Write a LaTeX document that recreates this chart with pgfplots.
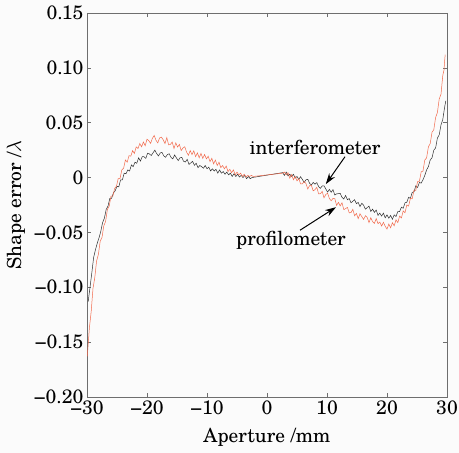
\documentclass[border=0pt]{standalone}
\usepackage{pgfplots}
\pgfplotsset{compat=1.18}
\usepackage{fontspec}
\setmainfont{TeX Gyre Schola}
\usetikzlibrary{arrows.meta}
\definecolor{proc}{RGB}{242,105,75}
\definecolor{intc}{RGB}{45,45,45}
\definecolor{axc}{RGB}{110,110,110}
\definecolor{bgc}{RGB}{251,251,251}
\begin{document}
\begin{tikzpicture}
\fill[bgc] (0,0) rectangle (459bp,453bp);
\useasboundingbox (0,0) rectangle (459bp,453bp);
\begin{axis}[
  at={(87bp,56bp)}, anchor=south west,
  scale only axis, width=360bp, height=384bp,
  xmin=-30, xmax=30, ymin=-0.20, ymax=0.15,
  xtick={-30,-20,...,30},
  ytick={-0.20,-0.15,-0.10,-0.05,0,0.05,0.10,0.15},
  yticklabels={−0.20,−0.15,−0.10,−0.05,0,0.05,0.10,0.15},
  xticklabels={−30,−20,−10,0,10,20,30},
  tick align=inside, major tick length=4bp,
  axis line style={axc, line width=0.6pt},
  every tick/.style={axc, line width=0.6pt},
  tick label style={font=\fontsize{19.5}{22}\selectfont, black},
  label style={font=\fontsize{19.5}{22}\selectfont, black},
  xlabel={Aperture /mm},
  ylabel={Shape error /$\lambda$},
  xlabel style={yshift=-7bp},
  ylabel style={yshift=2bp},
  clip=true,
]
\addplot[intc, line width=0.5pt] coordinates {
(-29.8,-0.113) (-29.5,-0.100) (-29.2,-0.087) (-28.9,-0.073) (-28.6,-0.066) (-28.3,-0.060) (-28.0,-0.055) (-27.7,-0.049) (-27.4,-0.041) (-27.1,-0.037)
(-26.8,-0.029) (-26.5,-0.026) (-26.2,-0.019) (-25.9,-0.019) (-25.6,-0.014) (-25.3,-0.012) (-25.0,-0.008) (-24.7,-0.0085) (-24.4,-0.002) (-24.1,-0.002)
(-23.8,0.004) (-23.5,0.0035) (-23.2,0.007) (-22.9,0.006) (-22.6,0.0115) (-22.3,0.010) (-22.0,0.014) (-21.7,0.013) (-21.4,0.018) (-21.1,0.015)
(-20.8,0.019) (-20.5,0.019) (-20.2,0.0175) (-19.9,0.0222) (-19.6,0.0216) (-19.3,0.0201) (-19.0,0.0225) (-18.7,0.025) (-18.4,0.0219) (-18.1,0.0197)
(-17.8,0.0224) (-17.5,0.023) (-17.2,0.0197) (-16.9,0.0185) (-16.6,0.021) (-16.3,0.0217) (-16.0,0.0184) (-15.7,0.017) (-15.4,0.0206) (-15.1,0.018)
(-14.8,0.0155) (-14.5,0.018) (-14.2,0.0184) (-13.9,0.0148) (-13.6,0.0142) (-13.3,0.0166) (-13.0,0.012) (-12.7,0.0134) (-12.4,0.0148) (-12.1,0.0112)
(-11.8,0.013) (-11.5,0.009) (-11.2,0.011) (-10.9,0.010) (-10.6,0.0085) (-10.3,0.011) (-10.0,0.008) (-9.7,0.0095) (-9.4,0.006) (-9.1,0.008)
(-8.8,0.006) (-8.5,0.0075) (-8.2,0.004) (-7.9,0.007) (-7.6,0.004) (-7.3,0.0055) (-7.0,0.003) (-6.7,0.005) (-6.4,0.0025) (-6.1,0.004)
(-5.8,0.001) (-5.5,0.0035) (-5.2,0.001) (-4.9,0.003) (-4.6,0.0005) (-4.3,0.002) (-4.0,0.000) (-3.7,0.002) (-3.4,-0.001) (-3.1,0.001)
(-2.8,-0.001) (-2.5,0.000) (2.6,0.0045) (2.9,0.002) (3.2,0.005) (3.5,0.0015) (3.8,0.003) (4.1,0.001) (4.4,0.003) (4.7,-0.0005)
(5.0,0.001) (5.3,-0.0016) (5.6,0.0008) (5.9,-0.0018) (6.2,-0.0044) (6.5,-0.002) (6.8,-0.0016) (7.1,-0.0052) (7.4,-0.0068) (7.7,-0.0044)
(8.0,-0.006) (8.3,-0.0046) (8.6,-0.0082) (8.9,-0.0098) (9.2,-0.0076) (9.5,-0.0075) (9.8,-0.0104) (10.1,-0.0132) (10.4,-0.0108) (10.7,-0.0134)
(11.0,-0.011) (11.3,-0.0159) (11.6,-0.0148) (11.9,-0.0147) (12.2,-0.0144) (12.5,-0.018) (12.8,-0.0196) (13.1,-0.0163) (13.4,-0.0202) (13.7,-0.0191)
(14.0,-0.023) (14.3,-0.0216) (14.6,-0.0202) (14.9,-0.0238) (15.2,-0.0226) (15.5,-0.0265) (15.8,-0.0234) (16.1,-0.0252) (16.4,-0.0288) (16.7,-0.0274)
(17.0,-0.026) (17.3,-0.0309) (17.6,-0.0288) (17.9,-0.0317) (18.2,-0.0296) (18.5,-0.0345) (18.8,-0.0324) (19.1,-0.0351) (19.4,-0.0324) (19.7,-0.0367)
(20.0,-0.034) (20.3,-0.037) (20.6,-0.0345) (20.9,-0.038) (21.2,-0.034) (21.5,-0.0355) (21.8,-0.031) (22.1,-0.031) (22.4,-0.027) (22.7,-0.028)
(23.0,-0.023) (23.3,-0.0225) (23.6,-0.018) (23.9,-0.019) (24.2,-0.0135) (24.5,-0.013) (24.8,-0.0075) (25.1,-0.009) (25.4,-0.0045) (25.7,-0.005)
(26.0,-0.002) (26.3,0.002) (26.6,0.007) (26.9,0.010) (27.2,0.016) (27.5,0.018) (27.8,0.025) (28.1,0.027) (28.4,0.036) (28.7,0.039)
(29.0,0.048) (29.3,0.053) (29.6,0.064) (29.8,0.070)
};
\addplot[proc, line width=0.5pt] coordinates {
(-29.95,-0.163) (-29.75,-0.148) (-29.6,-0.137) (-29.3,-0.122) (-29.0,-0.101) (-28.7,-0.091) (-28.4,-0.076) (-28.1,-0.070) (-27.8,-0.058) (-27.5,-0.0545) (-27.2,-0.044)
(-26.9,-0.040) (-26.6,-0.029) (-26.3,-0.026) (-26.0,-0.017) (-25.7,-0.017) (-25.4,-0.010) (-25.1,-0.008) (-24.8,-0.001) (-24.5,-0.001) (-24.2,0.007)
(-23.9,0.0085) (-23.6,0.016) (-23.3,0.014) (-23.0,0.020) (-22.7,0.0195) (-22.4,0.0245) (-22.1,0.022) (-21.8,0.028) (-21.5,0.0265) (-21.2,0.031)
(-20.9,0.028) (-20.6,0.0325) (-20.3,0.029) (-20.0,0.035) (-19.7,0.0336) (-19.4,0.0312) (-19.1,0.0358) (-18.8,0.0384) (-18.5,0.034) (-18.2,0.0316)
(-17.9,0.0362) (-17.6,0.0368) (-17.3,0.0344) (-17.0,0.031) (-16.7,0.0364) (-16.4,0.0298) (-16.1,0.0302) (-15.8,0.0324) (-15.5,0.0265) (-15.2,0.0316)
(-14.9,0.0278) (-14.6,0.0302) (-14.3,0.0246) (-14.0,0.027) (-13.7,0.0281) (-13.4,0.0232) (-13.1,0.0203) (-12.8,0.0246) (-12.5,0.021) (-12.2,0.0244)
(-11.9,0.019) (-11.6,0.0225) (-11.3,0.018) (-11.0,0.022) (-10.7,0.0175) (-10.4,0.021) (-10.1,0.017) (-9.8,0.0195) (-9.5,0.0145) (-9.2,0.0175)
(-8.9,0.0125) (-8.6,0.016) (-8.3,0.011) (-8.0,0.014) (-7.7,0.009) (-7.4,0.011) (-7.1,0.008) (-6.8,0.0105) (-6.5,0.0055) (-6.2,0.0075)
(-5.9,0.0045) (-5.6,0.007) (-5.3,0.0025) (-5.0,0.005) (-4.7,0.0025) (-4.4,0.004) (-4.1,0.001) (-3.8,0.003) (-3.5,0.0005) (-3.2,0.002)
(-2.9,0.001) (-2.6,0.002) (-2.3,0.001) (2.6,0.004) (2.9,0.005) (3.2,0.0025) (3.5,0.0045) (3.8,-0.0005) (4.1,0.0027) (4.4,-0.002)
(4.7,0.001) (5.0,-0.003) (5.3,-0.0009) (5.6,-0.0058) (5.9,-0.0057) (6.2,-0.0036) (6.5,-0.0055) (6.8,-0.0104) (7.1,-0.0073) (7.4,-0.0072)
(7.7,-0.0121) (8.0,-0.011) (8.3,-0.0089) (8.6,-0.0148) (8.9,-0.0147) (9.2,-0.0126) (9.5,-0.0185) (9.8,-0.0154) (10.1,-0.0143) (10.4,-0.0192)
(10.7,-0.0211) (11.0,-0.019) (11.3,-0.0192) (11.6,-0.0254) (11.9,-0.0226) (12.2,-0.0258) (12.5,-0.023) (12.8,-0.0292) (13.1,-0.0283) (13.4,-0.0272)
(13.7,-0.0321) (14.0,-0.032) (14.3,-0.0289) (14.6,-0.0348) (14.9,-0.0327) (15.2,-0.0374) (15.5,-0.033) (15.8,-0.0356) (16.1,-0.0382) (16.4,-0.0348)
(16.7,-0.0364) (17.0,-0.041) (17.3,-0.0366) (17.6,-0.0402) (17.9,-0.0418) (18.2,-0.0374) (18.5,-0.042) (18.8,-0.0406) (19.1,-0.0442) (19.4,-0.0408)
(19.7,-0.0444) (20.0,-0.047) (20.3,-0.0424) (20.6,-0.0458) (20.9,-0.0412) (21.2,-0.044) (21.5,-0.0385) (21.8,-0.041) (22.1,-0.0352) (22.4,-0.0368)
(22.7,-0.0304) (23.0,-0.032) (23.3,-0.025) (23.6,-0.026) (23.9,-0.019) (24.2,-0.0194) (24.5,-0.0115) (24.8,-0.0116) (25.1,-0.0036) (25.4,-0.0034)
(25.7,0.0052) (26.0,0.006) (26.3,0.016) (26.6,0.018) (26.9,0.028) (27.2,0.031) (27.5,0.0413) (27.8,0.0436) (28.1,0.0548) (28.4,0.0592)
(28.7,0.0716) (29.0,0.076) (29.3,0.0932) (29.5,0.098) (29.6,0.106) (29.7,0.112)
};
\node[font=\fontsize{19.5}{22}\selectfont] at (axis cs:8.0,0.027) {interferometer};
\draw[-{Stealth[length=11bp,width=7bp]}, line width=1pt] (axis cs:13.0,0.019) -- (axis cs:9.8,-0.006);
\node[font=\fontsize{19.5}{22}\selectfont] at (axis cs:4.0,-0.057) {profilometer};
\draw[-{Stealth[length=11bp,width=7bp]}, line width=1pt] (axis cs:5.5,-0.048) -- (axis cs:11.5,-0.027);
\end{axis}
\end{tikzpicture}
\end{document}
